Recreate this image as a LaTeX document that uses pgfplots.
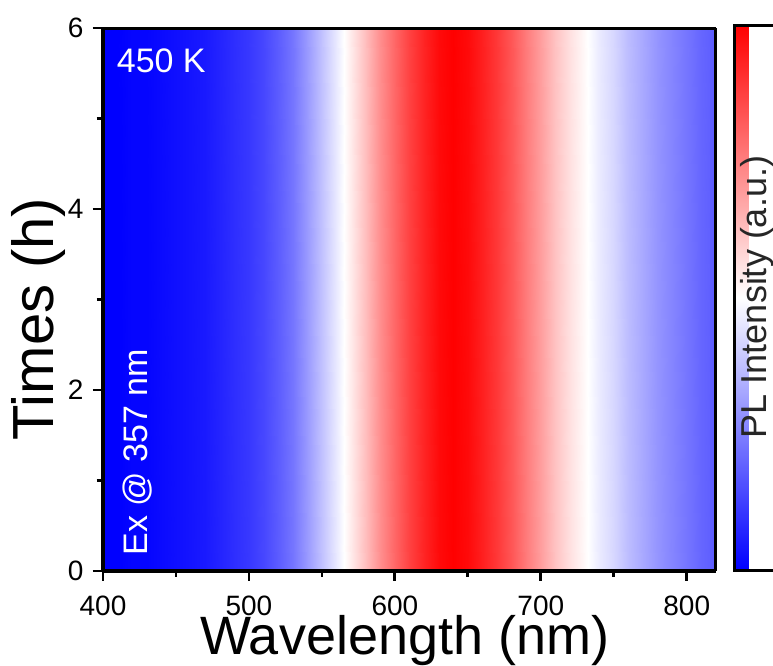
\documentclass[border=0pt]{standalone}
\usepackage{fontspec}
\setmainfont{Liberation Sans}
\usepackage{pgfplots}
\pgfplotsset{compat=1.18}
\usepackage{pgfplotstable}

\pgfplotstableread{
x y c
400 0 0.00
410 0 0.00
420 0 0.01
430 0 0.01
440 0 0.02
450 0 0.03
460 0 0.04
470 0 0.05
480 0 0.07
490 0 0.09
500 0 0.11
510 0 0.14
520 0 0.18
530 0 0.23
540 0 0.30
550 0 0.38
560 0 0.46
570 0 0.54
580 0 0.63
590 0 0.72
600 0 0.80
610 0 0.87
620 0 0.93
630 0 0.98
640 0 1.00
650 0 0.98
660 0 0.94
670 0 0.89
680 0 0.83
690 0 0.76
700 0 0.69
710 0 0.62
720 0 0.56
730 0 0.51
740 0 0.46
750 0 0.42
760 0 0.37
770 0 0.33
780 0 0.29
790 0 0.26
800 0 0.23
810 0 0.20
820 0 0.18
400 6 0.00
410 6 0.00
420 6 0.01
430 6 0.01
440 6 0.02
450 6 0.03
460 6 0.04
470 6 0.05
480 6 0.07
490 6 0.09
500 6 0.11
510 6 0.14
520 6 0.18
530 6 0.23
540 6 0.30
550 6 0.38
560 6 0.46
570 6 0.54
580 6 0.63
590 6 0.72
600 6 0.80
610 6 0.87
620 6 0.93
630 6 0.98
640 6 1.00
650 6 0.98
660 6 0.94
670 6 0.89
680 6 0.83
690 6 0.76
700 6 0.69
710 6 0.62
720 6 0.56
730 6 0.51
740 6 0.46
750 6 0.42
760 6 0.37
770 6 0.33
780 6 0.29
790 6 0.26
800 6 0.23
810 6 0.20
820 6 0.18
}\pldata

\begin{document}
\begin{tikzpicture}
\useasboundingbox (0,0) rectangle (773bp,666bp);
\begin{axis}[
 at={(103bp,95bp)},anchor=south west,
 scale only axis,width=613bp,height=543bp,
 view={0}{90},
 xmin=400,xmax=820,ymin=0,ymax=6,
 xtick={400,500,...,800},ytick={0,2,4,6},
 minor x tick num=1,minor y tick num=1,
 xtick pos=left,ytick pos=left,ztick=\empty,
 tick align=outside,
 major tick length=10bp,minor tick length=6bp,
 every tick/.style={black,line width=2.8bp},
 line width=3bp,
 axis line style={line width=3bp},
 /pgf/number format/assume math mode=true,
 tick label style={font=\fontsize{28bp}{30bp}\selectfont,inner sep=1bp},
 xticklabel style={yshift=-12bp},
 yticklabel style={xshift=-7bp},
 xlabel={Wavelength (nm)},ylabel={Times (h)},
 xlabel style={font=\fontsize{54bp}{58bp}\selectfont,inner sep=0pt,
   at={(axis description cs:0.492,-0.153)},anchor=base},
 ylabel style={font=\fontsize{58bp}{62bp}\selectfont,
   at={(axis description cs:-0.106,0.464)},anchor=center},
 colormap={bwr}{rgb255=(0,0,255) rgb255=(255,255,255) rgb255=(255,0,0)},
 point meta min=0,point meta max=1,
 colorbar right,
 colorbar style={at={(parent axis.north east)},anchor=north west,
   xshift=10bp,yshift=3bp,
   width=60bp,height=545bp,ytick=\empty,xtick=\empty,
   line width=3bp,
   axis line style={line width=3bp}},
 axis on top
]
\addplot3[surf,shader=interp,mesh/cols=43,mesh/ordering=x varies] table[x=x,y=y,z=c]{\pldata};
\draw[line width=3bp] (rel axis cs:0,0,0) rectangle (rel axis cs:1,1,0);
\node[white,anchor=base west,font=\fontsize{34bp}{36bp}\selectfont] at (axis cs:406.2,5.51) {450 K};
\node[white,rotate=90,anchor=base west,font=\fontsize{34bp}{36bp}\selectfont] at (axis cs:430.8,0.12) {Ex @ 357 nm};
\end{axis}
\node[rotate=90,font=\fontsize{36bp}{38bp}\selectfont,text=black!85] at (757bp,369bp) {PL Intensity (a.u.)};
\end{tikzpicture}
\end{document}
